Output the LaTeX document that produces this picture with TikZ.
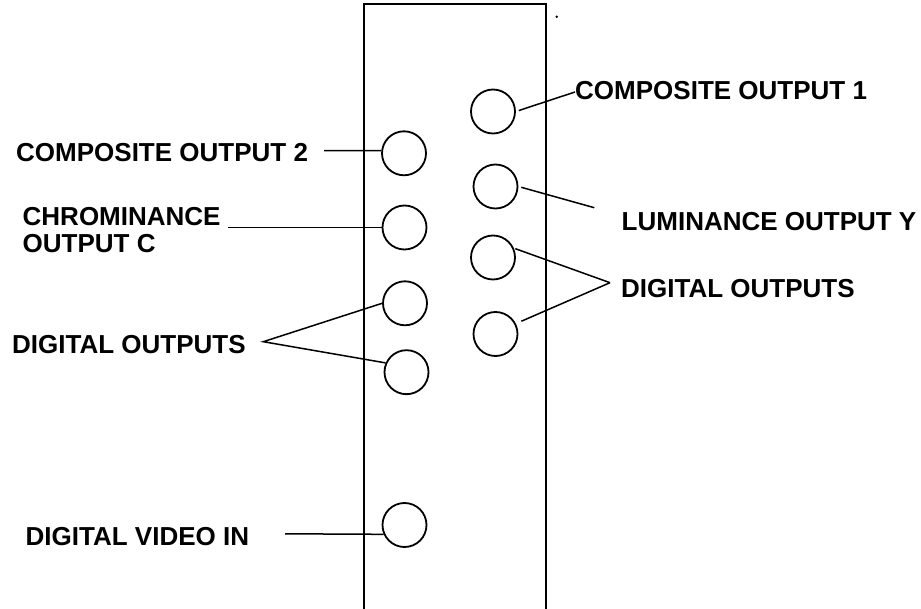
\documentclass[tikz,border=0pt]{standalone}
\usepackage{fontspec}
\setmainfont{Liberation Sans}
\begin{document}
\begin{tikzpicture}[x=1pt,y=-1pt,
  jack/.style={draw,circle,line width=1.8pt,minimum size=44pt,inner sep=0pt},
  lbl/.style={inner sep=0pt,anchor=base west,font=\fontsize{26}{26.5}\selectfont\bfseries,align=left},
  wire/.style={line width=1.5pt},
  panel/.style={line width=2pt}]
\useasboundingbox (0,0) rectangle (921,609);
% panel
\coordinate (pbl) at (364,612);
\coordinate (ptl) at (364,4.5);
\coordinate (ptr) at (545.7,4.5);
\coordinate (pbr) at (545.7,612);
\draw[panel] (pbl) -- (ptl) -- (ptr) -- (pbr);
\fill (556.7,16.7) circle (1.4pt);
% jacks
\node[jack] (c1)  at (493,111.5) {};
\node[jack] (c2)  at (404,153.3) {};
\node[jack] (lum) at (495.5,186.5) {};
\node[jack] (chr) at (404.5,227.5) {};
\node[jack] (rd1) at (493,257.5) {};
\node[jack] (ld1) at (405,303.3) {};
\node[jack] (rd2) at (495.5,334) {};
\node[jack] (ld2) at (406.5,372.2) {};
\node[jack] (dvi) at (404.5,525) {};
% labels
\node[lbl] (tc1) at (575,99.5) {COMPOSITE OUTPUT 1};
\node[lbl] (tc2) at (16,161.5) {COMPOSITE OUTPUT 2};
\node[lbl] (tchr) at (22.5,252.5) {CHROMINANCE\\OUTPUT C};
\node[lbl] (tlum) at (621.5,230.5) {LUMINANCE OUTPUT Y};
\node[lbl] (trd) at (621,298) {DIGITAL OUTPUTS};
\node[lbl] (tld) at (12,353.3) {DIGITAL OUTPUTS};
\node[lbl] (tdvi) at (25.5,545) {DIGITAL VIDEO IN};
% connector ends
\coordinate (e1) at (575,92);
\coordinate (e2) at (324,150.7);
\coordinate (echr) at (228,227.5);
\coordinate (elum) at (594.3,207.7);
\coordinate (ard) at (610,282.7);
\coordinate (ald) at (263.3,341.7);
\coordinate (edvi) at (285,533.8);
% connectors
\draw[wire,shorten <=3pt] (c1.east) -- (e1);
\draw[wire] (e2) -- (c2.173);
\draw[wire] (echr) -- (chr.west);
\draw[wire,shorten <=3pt] (lum.east) -- (elum);
\draw[wire,shorten <=1.5pt] (rd1.24) -- (ard);
\draw[wire,shorten >=6pt] (ard) -- (rd2.27);
\draw[wire] (ld1.180) -- (ald) -- (ld2.156);
\draw[wire] (edvi) -- (dvi.204);
\end{tikzpicture}
\end{document}
